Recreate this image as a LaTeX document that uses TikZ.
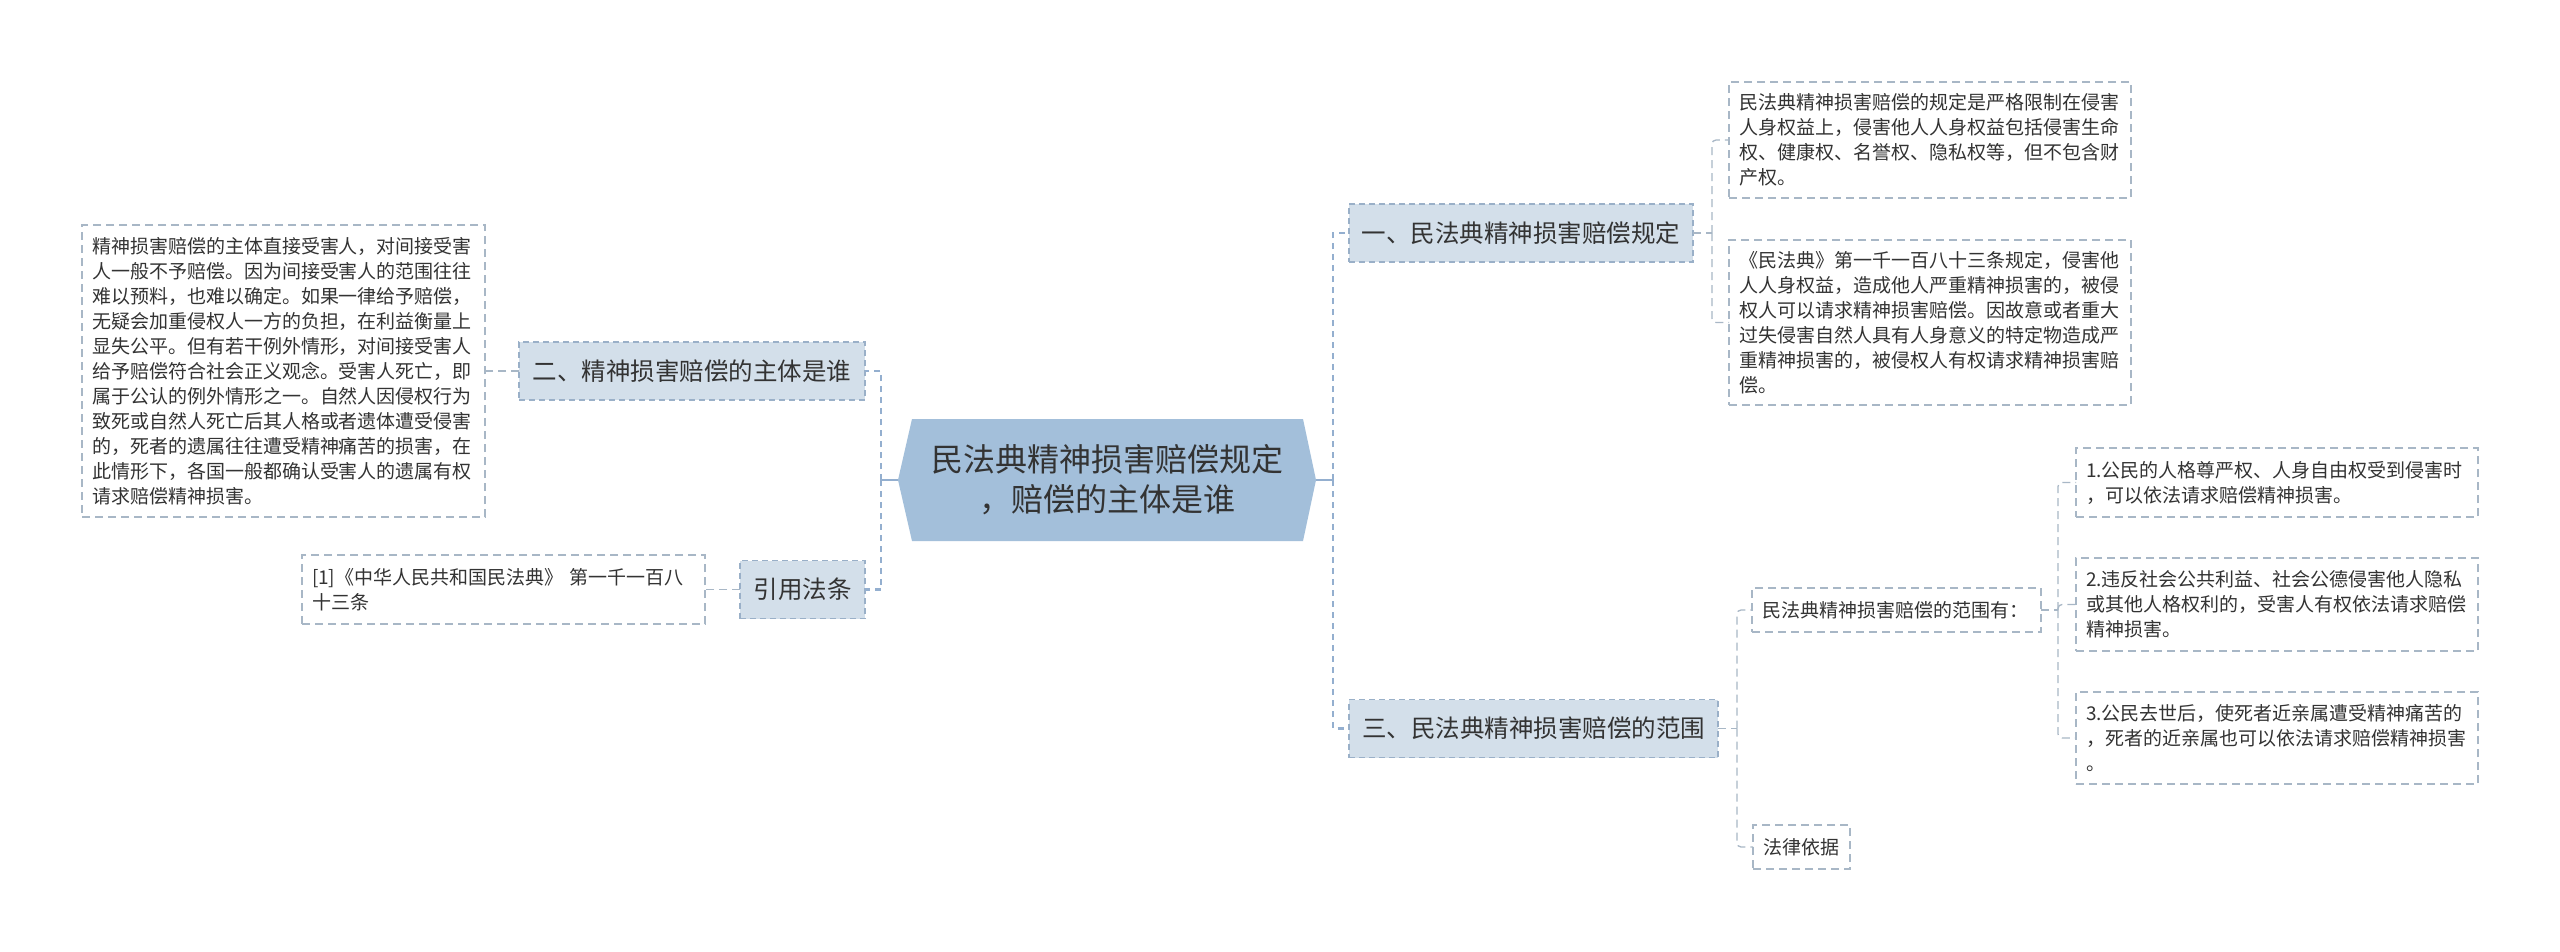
\documentclass[tikz,border=0pt]{standalone}
\usepackage{fontspec}
\setmainfont{Noto Sans CJK SC}
\usetikzlibrary{backgrounds,calc}
\definecolor{cfill}{HTML}{A3BFDA}
\definecolor{lfill}{HTML}{D3DFEA}
\definecolor{lborder}{HTML}{9AB0C8}
\definecolor{tborder}{HTML}{A8B7C6}
\definecolor{mainline}{HTML}{94AFCF}
\definecolor{subline}{HTML}{A8B7C6}
\definecolor{txt}{HTML}{333333}
\begin{document}
\begin{tikzpicture}[x=1pt,y=-1pt,
  every node/.style={text=txt, inner sep=0pt, outer sep=0pt},
  central/.style={minimum width=418, minimum height=122, align=center,
    font=\fontsize{32}{40}\selectfont},
  lvlone/.style={draw=lborder, fill=lfill, line width=1.6pt, dash pattern=on 6pt off 4pt,
    minimum height=58, font=\fontsize{24.5}{29}\selectfont},
  tbox/.style={draw=tborder, fill=white, line width=1.3pt, dash pattern=on 8pt off 5pt,
    align=left, inner xsep=10, font=\fontsize{19}{25}\selectfont},
  mainsolid/.style={draw=mainline, line width=2.6pt},
  maindash/.style={draw=mainline, line width=2.6pt, dash pattern=on 6pt off 5pt},
  subconn/.style={draw=subline, line width=1.3pt, dash pattern=on 8pt off 5pt, rounded corners=4}
]
\useasboundingbox (0,0) rectangle (2560,951);

% central node
\node[central] (c) at (1107,480) {民法典精神损害赔偿规定\\，赔偿的主体是谁};
\begin{scope}[on background layer]
\fill[white] (0,0) rectangle (2560,951);
\fill[cfill] (c.west) -- ($(c.north west)+(14,0)$) -- ($(c.north east)+(-13,0)$) -- (c.east)
  -- ($(c.south east)+(-13,0)$) -- ($(c.south west)+(14,0)$) -- cycle;
\end{scope}

% level one
\node[lvlone, minimum width=344] (n1) at (1521,233) {一、民法典精神损害赔偿规定};
\node[lvlone, minimum width=369] (n3) at (1533.5,728.5) {三、民法典精神损害赔偿的范围};
\node[lvlone, minimum width=346] (n2) at (692,371) {二、精神损害赔偿的主体是谁};
\node[lvlone, minimum width=125] (n4) at (802.5,589.5) {引用法条};

% text boxes
\node[tbox, text width=383, minimum height=292] (lt) at (283.5,371) {精神损害赔偿的主体直接受害人，对间接受害\\人一般不予赔偿。因为间接受害人的范围往往\\难以预料，也难以确定。如果一律给予赔偿，\\无疑会加重侵权人一方的负担，在利益衡量上\\显失公平。但有若干例外情形，对间接受害人\\给予赔偿符合社会正义观念。受害人死亡，即\\属于公认的例外情形之一。自然人因侵权行为\\致死或自然人死亡后其人格或者遗体遭受侵害\\的，死者的遗属往往遭受精神痛苦的损害，在\\此情形下，各国一般都确认受害人的遗属有权\\请求赔偿精神损害。};
\node[tbox, text width=383, minimum height=69] (rf) at (503.5,589.5) {[1]《中华人民共和国民法典》 第一千一百八\\十三条};
\node[tbox, text width=382, minimum height=116] (r1) at (1930,140) {民法典精神损害赔偿的规定是严格限制在侵害\\人身权益上，侵害他人人身权益包括侵害生命\\权、健康权、名誉权、隐私权等，但不包含财\\产权。};
\node[tbox, text width=382, minimum height=165] (r2) at (1930,322.5) {《民法典》第一千一百八十三条规定，侵害他\\人人身权益，造成他人严重精神损害的，被侵\\权人可以请求精神损害赔偿。因故意或者重大\\过失侵害自然人具有人身意义的特定物造成严\\重精神损害的，被侵权人有权请求精神损害赔\\偿。};
\node[tbox, text width=269, minimum height=44] (f) at (1896.5,610) {民法典精神损害赔偿的范围有：};
\node[tbox, text width=77, minimum height=44] (lg) at (1801.5,847) {法律依据};
\node[tbox, text width=382, minimum height=69] (s1) at (2277,482.5) {1.公民的人格尊严权、人身自由权受到侵害时\\，可以依法请求赔偿精神损害。};
\node[tbox, text width=382, minimum height=93] (s2) at (2277,604.5) {2.违反社会公共利益、社会公德侵害他人隐私\\或其他人格权利的，受害人有权依法请求赔偿\\精神损害。};
\node[tbox, text width=382, minimum height=92] (s3) at (2277,738) {3.公民去世后，使死者近亲属遭受精神痛苦的\\，死者的近亲属也可以依法请求赔偿精神损害\\。};

% spine coordinates
\coordinate (cl) at (881,480);
\coordinate (cr) at (1333,480);
\coordinate (k1) at (1712,233);
\coordinate (k3) at (1737,728.5);
\coordinate (kf) at (2058,610);

% main connectors
\draw[mainsolid] (c.west) -- (cl);
\draw[maindash] (cl) |- (n2.east);
\draw[maindash] (cl) |- (n4.east);
\draw[mainsolid] (c.east) -- (cr);
\draw[maindash] (cr) |- (n1.west);
\draw[maindash] (cr) |- (n3.west);

% sub connectors
\draw[subconn] (n2.west) -- (lt.east);
\draw[subconn] (n4.west) -- (rf.east);
\draw[subconn] (n1.east) -- (k1);
\draw[subconn] (k1) |- (r1.west);
\draw[subconn] (k1) |- (r2.west);
\draw[subconn] (n3.east) -- (k3);
\draw[subconn] (k3) |- (f.west);
\draw[subconn] (k3) |- (lg.west);
\draw[subconn] (f.east) -- (kf);
\draw[subconn] (kf) |- (s1.west);
\draw[subconn] (kf) |- (s2.west);
\draw[subconn] (kf) |- (s3.west);
\end{tikzpicture}
\end{document}
